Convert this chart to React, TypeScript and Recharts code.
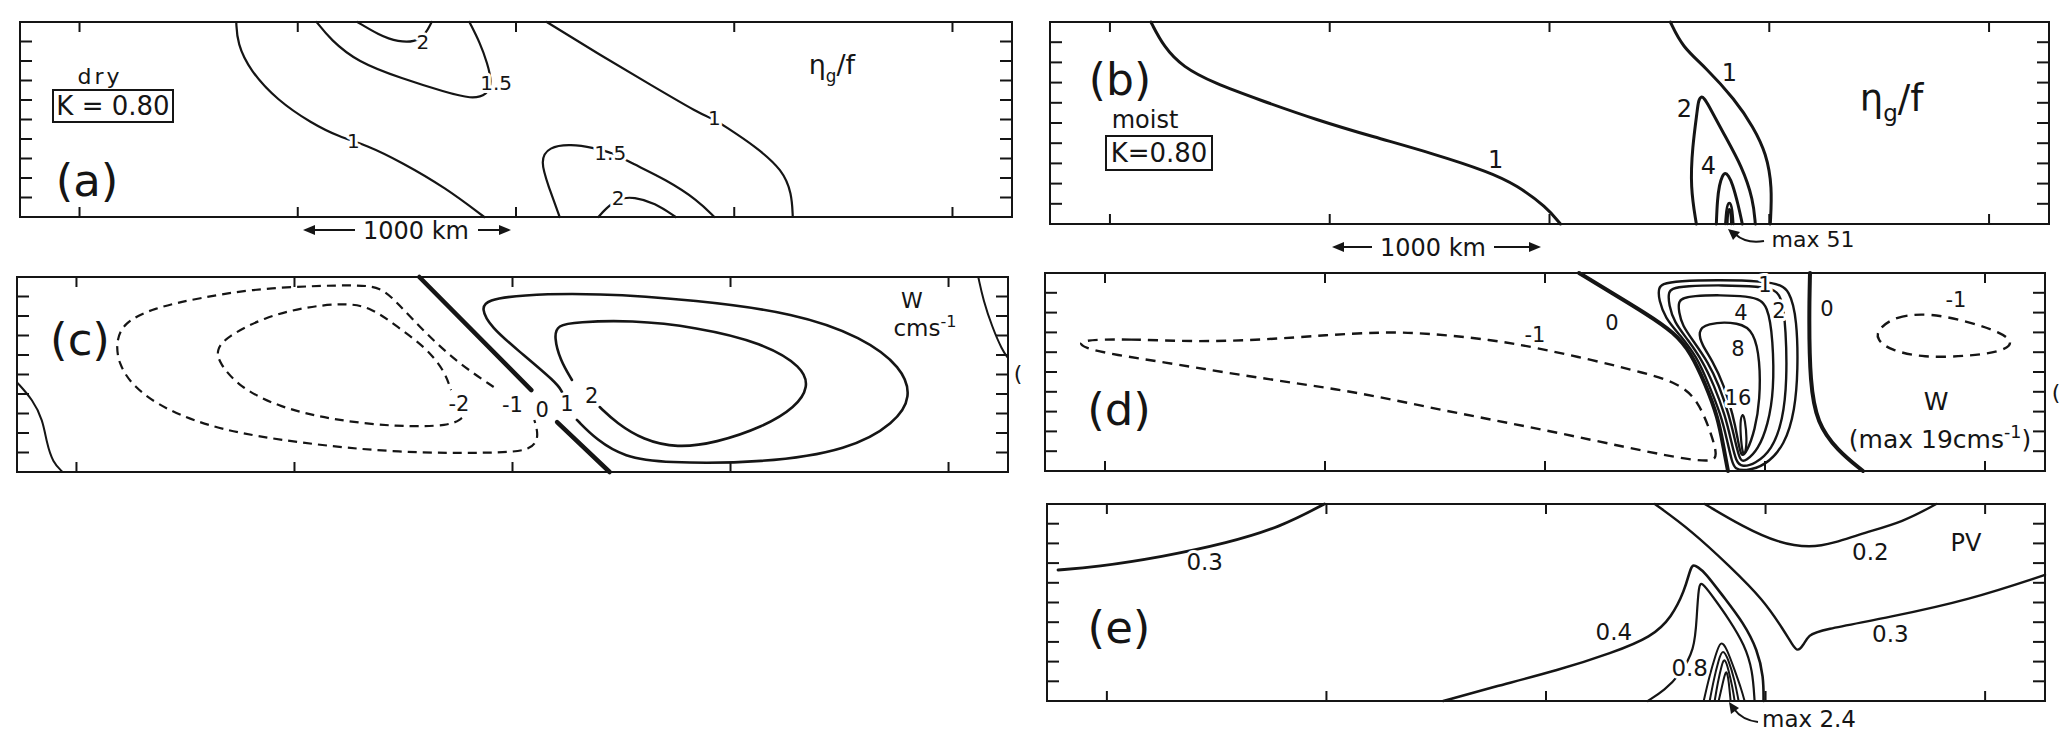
import React from 'react';
import { ComposedChart, Line, XAxis, YAxis, ReferenceArea, ReferenceLine } from 'recharts';

type Pair = [number, number];
type Tag = [number, number, string];

// ---------- shared tick positions (percent of panel width / tenth of height) ----------
const TICK_X = [6, 28, 50, 72, 94];
const TICK_Y = [1, 2, 3, 4, 5, 6, 7, 8, 9];

// ---------- (a) dry, eta_g / f ----------
const A_ETA1_LEFT: Pair[] = [[21.8, 10], [21.9, 8.9], [23.2, 7.5], [25.9, 6.0], [29.4, 4.8], [32.2, 4.1], [34.9, 3.7], [38.5, 2.8], [42.9, 1.5], [46.8, 0]];
const A_ETA15_UP: Pair[] = [[29.9, 10], [31.3, 9.1], [34.0, 7.95], [38.5, 7.1], [42.9, 6.4], [45.5, 6.05], [47.1, 6.25], [47.6, 6.9], [47.1, 7.9], [46.4, 8.9], [45.3, 10]];
const A_ETA2_UP: Pair[] = [[34.0, 10], [36.2, 9.33], [38.0, 8.97], [40.5, 8.97], [41.5, 10]];
const A_ETA1_RIGHT: Pair[] = [[53.1, 10], [58.5, 8.3], [63.5, 6.8], [68.5, 5.3], [70.0, 5.0], [70.9, 4.7], [74.2, 3.6], [76.9, 2.4], [77.8, 1.2], [77.9, 0]];
const A_ETA15_LOW: Pair[] = [[54.4, 0], [53.3, 1.54], [52.4, 2.9], [53.3, 3.6], [55.5, 3.74], [57.9, 3.54], [59.7, 3.3], [61.6, 2.77], [65.2, 1.9], [68.3, 0.87], [70.0, 0]];
const A_ETA2_LOW: Pair[] = [[58.3, 0], [59.0, 0.4], [60.3, 0.97], [61.9, 1.03], [64.0, 0.72], [66.1, 0]];
const A_TAGS: Tag[] = [[33.6, 3.9, '1'], [48.0, 6.9, '1.5'], [40.6, 8.97, '2'], [70.0, 5.08, '1'], [59.5, 3.28, '1.5'], [60.3, 0.97, '2']];

// ---------- (b) moist, eta_g / f ----------
const B_ETA1_LEFT: Pair[] = [[10.1, 10], [11.4, 8.76], [13.3, 7.77], [16.4, 6.98], [21.0, 6.14], [26.7, 5.15], [32.4, 4.31], [38.2, 3.51], [44.0, 2.57], [46.7, 1.93], [49.7, 0.84], [51.1, 0]];
const B_ETA1_RIGHT: Pair[] = [[62.1, 10], [63.3, 8.76], [65.6, 7.77], [68.6, 6.14], [70.4, 4.8], [71.7, 3.5], [72.3, 1.83], [72.1, 0]];
const B_ETA2: Pair[] = [[64.7, 0], [64.1, 1.83], [64.3, 3.8], [64.8, 5.64], [64.9, 6.1], [65.2, 6.35], [65.5, 6.2], [65.8, 6.0], [67.4, 4.5], [69.3, 2.82], [70.4, 1.19], [70.6, 0]];
const B_ETA4: Pair[] = [[66.7, 0], [66.8, 1.19], [67.0, 1.93], [67.3, 2.4], [67.6, 2.55], [67.9, 2.4], [68.3, 2.03], [68.9, 0.94], [69.3, 0]];
const B_ETA_MAX_A: Pair[] = [[67.6, 0], [67.7, 0.7], [67.85, 1.0], [68.0, 1.06], [68.15, 1.0], [68.3, 0.7], [68.4, 0]];
const B_ETA_MAX_B: Pair[] = [[67.8, 0], [67.85, 0.6], [68.0, 0.8], [68.15, 0.6], [68.2, 0]];
const B_TAGS: Tag[] = [[44.6, 3.2, '1'], [68.0, 7.5, '1'], [63.5, 5.74, '2'], [65.9, 2.9, '4']];

// ---------- (c) dry, w ----------
const C_NEG1: Pair[] = [[48.1, 4.36], [44.5, 5.59], [41.2, 7.13], [38.4, 8.67], [36.7, 9.49], [34.4, 9.59], [29.8, 9.54], [23.7, 9.38], [18.4, 8.92], [13.7, 8.41], [10.7, 7.64], [10.0, 6.67], [10.2, 5.59], [11.7, 4.36], [15.0, 3.18], [20.4, 2.15], [28.4, 1.49], [38.4, 0.97], [49.1, 0.97], [51.9, 1.13], [52.7, 1.79], [52.2, 2.67]];
const C_NEG2: Pair[] = [[44.9, 2.77], [43.8, 2.36], [38.4, 2.31], [31.8, 2.67], [26.4, 3.33], [22.4, 4.36], [20.4, 5.59], [20.1, 6.26], [21.1, 6.92], [25.0, 7.95], [29.1, 8.46], [33.1, 8.67], [35.7, 8.46], [38.4, 7.44], [41.2, 6.41], [43.1, 5.23], [43.8, 4.2]];
const C_ZERO_TOP: Pair[] = [[40.6, 10], [51.9, 4.2]];
const C_ZERO_BOT: Pair[] = [[54.5, 2.56], [59.8, 0]];
const C_POS1: Pair[] = [[55.0, 4.1], [54.5, 4.56], [50.5, 6.26], [47.8, 7.44], [46.8, 8.41], [47.5, 8.82], [50.5, 9.08], [58.5, 9.18], [68.5, 8.82], [78.6, 8.15], [85.3, 6.92], [89.3, 5.38], [90.3, 3.85], [88.6, 2.51], [84.0, 1.13], [75.3, 0.46], [65.2, 0.46], [61.3, 0.77], [58.5, 1.64], [56.5, 2.67]];
const C_POS2: Pair[] = [[56.0, 4.72], [54.8, 5.74], [54.2, 6.92], [54.5, 7.54], [56.5, 7.69], [61.9, 7.79], [68.5, 7.44], [75.3, 6.62], [79.3, 5.38], [79.9, 4.36], [78.6, 3.33], [75.3, 2.31], [70.5, 1.49], [66.6, 1.23], [63.2, 1.64], [60.5, 2.51], [58.8, 3.33]];
const C_EDGE_L: Pair[] = [[0, 4.6], [1.6, 3.7], [2.6, 2.67], [3.0, 1.49], [3.6, 0.5], [4.6, 0]];
const C_EDGE_R: Pair[] = [[97.0, 10], [97.5, 8.82], [98.4, 7.44], [99.4, 6.26], [100, 5.85]];
const C_TAGS: Tag[] = [[44.6, 3.5, '-2'], [50.0, 3.44, '-1'], [53.0, 3.2, '0'], [55.5, 3.5, '1'], [58.0, 3.95, '2']];

// ---------- (d) moist, w ----------
const D_ZERO_L: Pair[] = [[53.4, 10], [56.7, 8.99], [60.0, 7.98], [63.0, 6.97], [64.6, 5.96], [66.0, 4.44], [67.3, 2.73], [67.9, 1.06], [68.3, 0]];
const D_ZERO_R: Pair[] = [[76.5, 10], [76.4, 7.78], [76.5, 4.44], [77.2, 2.42], [79.2, 1.06], [81.8, 0]];
const D_POS1: Pair[] = [[61.3, 9.24], [62.0, 9.65], [73.0, 9.65], [74.5, 9.14], [75.2, 7.63], [75.3, 5.1], [75.0, 3.08], [74.0, 1.31], [72.0, 0.25], [70.0, 0.0], [69.0, 0.1], [68.7, 0.45], [68.2, 1.57], [67.6, 2.83], [66.4, 4.34], [65.2, 5.76], [63.5, 6.87], [62.0, 7.73], [61.4, 8.64]];
const D_POS2: Pair[] = [[62.3, 9.04], [62.9, 9.39], [72.5, 9.39], [73.7, 8.89], [74.1, 7.12], [74.2, 4.6], [73.8, 2.58], [72.7, 1.06], [71.0, 0.35], [69.7, 0.2], [69.1, 0.45], [68.6, 1.57], [68.0, 2.83], [66.9, 4.34], [65.7, 5.61], [64.3, 6.62], [62.9, 7.53], [62.4, 8.38]];
const D_POS4: Pair[] = [[63.3, 8.54], [64.0, 8.89], [71.0, 8.89], [72.3, 8.38], [72.8, 6.62], [72.9, 4.09], [72.3, 2.32], [71.3, 1.06], [70.1, 0.51], [69.5, 0.45], [69.0, 1.57], [68.4, 2.83], [67.4, 4.34], [66.3, 5.5], [64.9, 6.52], [63.7, 7.37], [63.4, 8.03]];
const D_POS8: Pair[] = [[65.3, 7.02], [66.0, 7.47], [69.5, 7.53], [70.9, 7.02], [71.5, 5.61], [71.5, 3.59], [71.0, 2.07], [70.2, 0.96], [69.6, 0.66], [69.3, 1.57], [68.8, 2.83], [67.9, 4.34], [66.7, 5.61], [65.7, 6.36]];
const D_POS16: Pair[] = [[69.5, 2.5], [69.75, 2.95], [70.0, 2.6], [70.2, 1.6], [70.05, 0.9], [69.8, 0.8], [69.6, 1.5]];
const D_NEG1_L: Pair[] = [[3.1, 6.62], [8.4, 6.67], [15.0, 6.52], [21.6, 6.62], [28.3, 6.87], [33.6, 7.02], [38.2, 6.97], [44.8, 6.62], [48.8, 6.26], [54.7, 5.61], [60.0, 4.95], [63.3, 4.44], [65.3, 3.59], [66.6, 1.92], [67.3, 0.71], [66.6, 0.45], [63.3, 0.66], [58.0, 1.21], [51.4, 1.92], [44.8, 2.58], [38.2, 3.23], [31.6, 3.94], [25.0, 4.44], [18.3, 4.95], [11.7, 5.51], [7.1, 5.86], [3.8, 6.21]];
const D_NEG1_R: Pair[] = [[83.2, 7.12], [85.0, 7.83], [88.5, 7.98], [92.4, 7.53], [95.5, 7.02], [97.0, 6.46], [95.5, 6.01], [92.4, 5.81], [87.8, 5.71], [84.5, 6.11], [83.2, 6.62]];
const D_TAGS: Tag[] = [[56.7, 7.5, '0'], [78.2, 8.2, '0'], [72.0, 9.4, '1'], [73.4, 8.1, '2'], [69.6, 8.0, '4'], [69.3, 6.21, '8'], [69.3, 3.74, '16'], [49.0, 6.92, '-1'], [91.1, 8.64, '-1']];

// ---------- (e) moist, PV ----------
const E_PV03_L: Pair[] = [[1.1, 6.65], [4.9, 6.8], [11.5, 7.31], [18.1, 8.02], [23.4, 8.83], [27.8, 10]];
const E_PV03_R: Pair[] = [[60.9, 10], [64.5, 8.68], [68.5, 6.8], [71.8, 5.13], [73.8, 3.6], [74.7, 2.85], [75.2, 2.49], [75.8, 2.84], [76.3, 3.35], [77.5, 3.6], [84.5, 4.26], [92.4, 5.13], [100, 6.4]];
const E_PV02: Pair[] = [[65.9, 10], [69.8, 8.83], [73.3, 8.02], [76.5, 7.77], [78.9, 8.02], [81.8, 8.53], [85.8, 9.09], [89.1, 10]];
const E_PV04: Pair[] = [[39.7, 0], [44.7, 0.71], [51.3, 1.57], [56.6, 2.44], [60.6, 3.25], [62.6, 4.26], [63.9, 5.63], [64.4, 6.6], [64.7, 6.95], [65.2, 6.8], [65.9, 6.55], [67.8, 5.28], [69.8, 3.96], [71.2, 2.59], [71.8, 1.22], [71.8, 0]];
const E_PV08: Pair[] = [[60.2, 0], [61.9, 0.56], [63.4, 1.32], [64.9, 2.59], [65.1, 4.26], [65.3, 5.89], [65.6, 6.04], [66.6, 5.38], [68.4, 4.11], [69.9, 2.84], [70.7, 1.57], [70.9, 0]];
const E_IN1: Pair[] = [[65.8, 0], [66.4, 1.32], [67.0, 2.34], [67.5, 3.1], [68.1, 2.69], [68.9, 1.57], [69.6, 0.56], [69.9, 0]];
const E_IN2: Pair[] = [[66.4, 0], [66.8, 1.07], [67.3, 2.08], [67.7, 2.69], [68.3, 2.08], [68.9, 1.07], [69.3, 0]];
const E_IN3: Pair[] = [[66.9, 0], [67.2, 0.91], [67.6, 1.83], [67.9, 2.23], [68.3, 1.57], [68.7, 0.66], [68.9, 0]];
const E_IN4: Pair[] = [[67.3, 0], [67.6, 0.66], [67.9, 1.32], [68.1, 1.57], [68.3, 1.07], [68.5, 0]];
const E_TAGS: Tag[] = [[15.8, 7.06, '0.3'], [82.5, 7.6, '0.2'], [84.5, 3.4, '0.3'], [56.8, 3.5, '0.4'], [64.4, 1.68, '0.8']];

// ---------- rendering ----------
const INK = '#151515';
const FONT = '"DejaVu Sans", Verdana, sans-serif';

type Curve = { d: Pair[]; w: number; dash?: string; closed?: boolean; lin?: boolean };

const pts = (a: Pair[]) => a.map(([x, y]) => ({ x, y }));

// label renderer for the (invisible) tag series: draws each contour value with a white halo
const tagLabel = (tags: Tag[], s: number) => (p: any) => {
  const i = p.index;
  const vb = p.viewBox || {};
  const x = typeof vb.x === 'number' ? vb.x + (vb.width || 0) / 2 : p.x;
  const y = typeof vb.y === 'number' ? vb.y + (vb.height || 0) / 2 : p.y;
  const t = tags[i] ? tags[i][2] : '';
  return (
    <text
      key={'tg' + i}
      x={x}
      y={y}
      dy="0.36em"
      textAnchor="middle"
      fontFamily={FONT}
      fontSize={s}
      fill={INK}
      stroke="#fff"
      strokeWidth={6}
      strokeLinejoin="round"
      style={{ paintOrder: 'stroke' }}
    >
      {t}
    </text>
  );
};

const M = 8;

function Panel(props: { left: number; top: number; w: number; h: number; curves: Curve[]; tags: Tag[]; tagSize: number }) {
  const { left, top, w, h, curves, tags, tagSize } = props;
  const tx = 10 / (h / 10);
  const ty = 12 / (w / 100);
  return (
    <div style={{ position: 'absolute', left: left - M, top: top - M }}>
      <ComposedChart width={w + 2 * M} height={h + 2 * M} margin={{ top: M, right: M, bottom: M, left: M }}>
        <XAxis type="number" dataKey="x" domain={[0, 100]} hide />
        <YAxis type="number" dataKey="y" domain={[0, 10]} hide />
        <ReferenceArea x1={0} x2={100} y1={0} y2={10} fill="none" fillOpacity={0} stroke={INK} strokeWidth={2} />
        {TICK_X.map((t) => (
          <ReferenceLine key={'xb' + t} segment={[{ x: t, y: 0 }, { x: t, y: tx }]} stroke={INK} strokeWidth={2} />
        ))}
        {TICK_X.map((t) => (
          <ReferenceLine key={'xt' + t} segment={[{ x: t, y: 10 }, { x: t, y: 10 - tx }]} stroke={INK} strokeWidth={2} />
        ))}
        {TICK_Y.map((t) => (
          <ReferenceLine key={'yl' + t} segment={[{ x: 0, y: t }, { x: ty, y: t }]} stroke={INK} strokeWidth={2} />
        ))}
        {TICK_Y.map((t) => (
          <ReferenceLine key={'yr' + t} segment={[{ x: 100, y: t }, { x: 100 - ty, y: t }]} stroke={INK} strokeWidth={2} />
        ))}
        {curves.map((c, i) => (
          <Line
            key={'c' + i}
            data={pts(c.d)}
            dataKey="y"
            type={c.lin ? 'linear' : c.closed ? 'basisClosed' : 'basis'}
            stroke={INK}
            strokeWidth={c.w}
            strokeDasharray={c.dash}
            strokeLinecap={c.dash ? 'butt' : 'round'}
            strokeLinejoin="round"
            dot={false}
            activeDot={false}
            isAnimationActive={false}
          />
        ))}
        <Line
          key="tags"
          data={tags.map(([x, y]) => ({ x, y }))}
          dataKey="y"
          type="linear"
          stroke="none"
          strokeWidth={0}
          dot={false}
          activeDot={false}
          isAnimationActive={false}
          label={tagLabel(tags, tagSize)}
        />
      </ComposedChart>
    </div>
  );
}

const Txt = (p: { x: number; y: number; s: number; children: React.ReactNode; ls?: number }) => (
  <div
    style={{
      position: 'absolute',
      left: p.x,
      top: p.y,
      transform: 'translate(-50%, -50%)',
      fontFamily: FONT,
      fontSize: p.s,
      lineHeight: 1,
      whiteSpace: 'nowrap',
      color: INK,
      letterSpacing: p.ls || 0,
    }}
  >
    {p.children}
  </div>
);

const KBox = (p: { x: number; y: number; w: number; h: number; s: number; t: string }) => (
  <div
    style={{
      position: 'absolute',
      left: p.x,
      top: p.y,
      width: p.w,
      height: p.h,
      border: `2px solid ${INK}`,
      boxSizing: 'border-box',
      display: 'flex',
      alignItems: 'center',
      justifyContent: 'center',
      fontFamily: FONT,
      fontSize: p.s,
      color: INK,
      whiteSpace: 'nowrap',
    }}
  >
    {p.t}
  </div>
);

const Span = (p: { x1: number; x2: number; y: number; t1: number; t2: number }) => (
  <svg style={{ position: 'absolute', left: p.x1 - 2, top: p.y - 8 }} width={p.x2 - p.x1 + 4} height={16}>
    <line x1={10} y1={8} x2={p.t1 - p.x1 + 2} y2={8} stroke={INK} strokeWidth={2} />
    <polygon points={`2,8 14,3 14,13`} fill={INK} />
    <line x1={p.t2 - p.x1 + 2} y1={8} x2={p.x2 - p.x1 - 6} y2={8} stroke={INK} strokeWidth={2} />
    <polygon points={`${p.x2 - p.x1 + 2},8 ${p.x2 - p.x1 - 10},3 ${p.x2 - p.x1 - 10},13`} fill={INK} />
  </svg>
);

const Hook = (p: { x: number; y: number; d: string; head: string }) => (
  <svg style={{ position: 'absolute', left: p.x, top: p.y }} width={50} height={30}>
    <path d={p.d} fill="none" stroke={INK} strokeWidth={2} />
    <polygon points={p.head} fill={INK} />
  </svg>
);

// eta_g / f written as one svg text (subscript via tspan)
const Eta = (p: { x: number; y: number; s: number }) => (
  <svg style={{ position: 'absolute', left: p.x - p.s * 1.2, top: p.y - p.s }} width={p.s * 2.6} height={p.s * 2}>
    <text x={p.s * 0.1} y={p.s * 1.3} fontFamily={FONT} fontSize={p.s} fill={INK}>
      η<tspan fontSize={p.s * 0.62} dy={p.s * 0.28}>g</tspan>
      <tspan dy={-p.s * 0.28}>/f</tspan>
    </text>
  </svg>
);

export default function App() {
  const A: Curve[] = [
    { d: A_ETA1_LEFT, w: 2.2 },
    { d: A_ETA15_UP, w: 2.2 },
    { d: A_ETA2_UP, w: 2.2 },
    { d: A_ETA1_RIGHT, w: 2.2 },
    { d: A_ETA15_LOW, w: 2.2 },
    { d: A_ETA2_LOW, w: 2.2 },
  ];
  const B: Curve[] = [
    { d: B_ETA1_LEFT, w: 3 },
    { d: B_ETA1_RIGHT, w: 3 },
    { d: B_ETA2, w: 3 },
    { d: B_ETA4, w: 3 },
    { d: B_ETA_MAX_A, w: 2.5 },
    { d: B_ETA_MAX_B, w: 2.5 },
  ];
  const C: Curve[] = [
    { d: C_NEG1, w: 2.2, dash: '9 6' },
    { d: C_NEG2, w: 2.2, dash: '9 6' },
    { d: C_ZERO_TOP, w: 4.5, lin: true },
    { d: C_ZERO_BOT, w: 4.5, lin: true },
    { d: C_POS1, w: 2.6 },
    { d: C_POS2, w: 2.6 },
    { d: C_EDGE_L, w: 2 },
    { d: C_EDGE_R, w: 2 },
  ];
  const D: Curve[] = [
    { d: D_NEG1_L, w: 2.4, dash: '10 7', closed: true },
    { d: D_NEG1_R, w: 2.4, dash: '10 7', closed: true },
    { d: D_ZERO_L, w: 4 },
    { d: D_ZERO_R, w: 4 },
    { d: D_POS1, w: 2.4, closed: true },
    { d: D_POS2, w: 2.4, closed: true },
    { d: D_POS4, w: 2.4, closed: true },
    { d: D_POS8, w: 2.4, closed: true },
    { d: D_POS16, w: 2.2, closed: true },
  ];
  const E: Curve[] = [
    { d: E_PV03_L, w: 2.8 },
    { d: E_PV03_R, w: 2.4 },
    { d: E_PV02, w: 2.4 },
    { d: E_PV04, w: 2.6 },
    { d: E_PV08, w: 2.2 },
    { d: E_IN1, w: 2 },
    { d: E_IN2, w: 2 },
    { d: E_IN3, w: 2 },
    { d: E_IN4, w: 2 },
  ];

  return (
    <div style={{ position: 'absolute', left: 0, top: 0, width: 2067, height: 748, background: '#fff', overflow: 'hidden' }}>
      <Panel left={20} top={22} w={992} h={195} curves={A} tags={A_TAGS} tagSize={20} />
      <Panel left={1050} top={22} w={999} h={202} curves={B} tags={B_TAGS} tagSize={24} />
      <Panel left={17} top={277} w={991} h={195} curves={C} tags={C_TAGS} tagSize={21} />
      <Panel left={1045} top={273} w={1000} h={198} curves={D} tags={D_TAGS} tagSize={21} />
      <Panel left={1047} top={504} w={998} h={197} curves={E} tags={E_TAGS} tagSize={23} />

      {/* (a) */}
      <Txt x={100} y={77} s={22} ls={3}>dry</Txt>
      <KBox x={52} y={89} w={122} h={34} s={26} t="K = 0.80" />
      <Txt x={87} y={180} s={45}>(a)</Txt>
      <Eta x={838} y={66} s={27} />
      <Span x1={303} x2={511} y={230} t1={355} t2={478} />
      <Txt x={416} y={231} s={24}>1000 km</Txt>

      {/* (b) */}
      <Txt x={1120} y={80} s={44}>(b)</Txt>
      <Txt x={1145} y={120} s={24}>moist</Txt>
      <KBox x={1105} y={135} w={108} h={36} s={26} t="K=0.80" />
      <Eta x={1900} y={100} s={37} />
      <Span x1={1332} x2={1541} y={247} t1={1372} t2={1494} />
      <Txt x={1433} y={248} s={24}>1000 km</Txt>
      <Hook x={1724} y={226} d="M 40 15 Q 22 18 11 8" head="4,3 16,6 9,14" />
      <Txt x={1813} y={240} s={22}>max 51</Txt>

      {/* (c) */}
      <Txt x={80} y={339} s={45}>(c)</Txt>
      <Txt x={912} y={301} s={22}>W</Txt>
      <Txt x={925} y={327} s={23}>cms<sup style={{ fontSize: '0.7em' }}>-1</sup></Txt>
      <Txt x={1018} y={374} s={22}>(</Txt>

      {/* (d) */}
      <Txt x={1936} y={401} s={25}>W</Txt>
      <Txt x={1940} y={438} s={25}>(max 19cms<sup style={{ fontSize: '0.7em' }}>-1</sup>)</Txt>
      <Txt x={1119} y={409} s={45}>(d)</Txt>
      <Txt x={2056} y={393} s={22}>(</Txt>

      {/* (e) */}
      <Txt x={1119} y={627} s={45}>(e)</Txt>
      <Txt x={1966} y={543} s={24}>PV</Txt>
      <Hook x={1724} y={700} d="M 34 22 Q 18 20 10 9" head="5,2 15,8 7,14" />
      <Txt x={1809} y={719} s={23}>max 2.4</Txt>
    </div>
  );
}
